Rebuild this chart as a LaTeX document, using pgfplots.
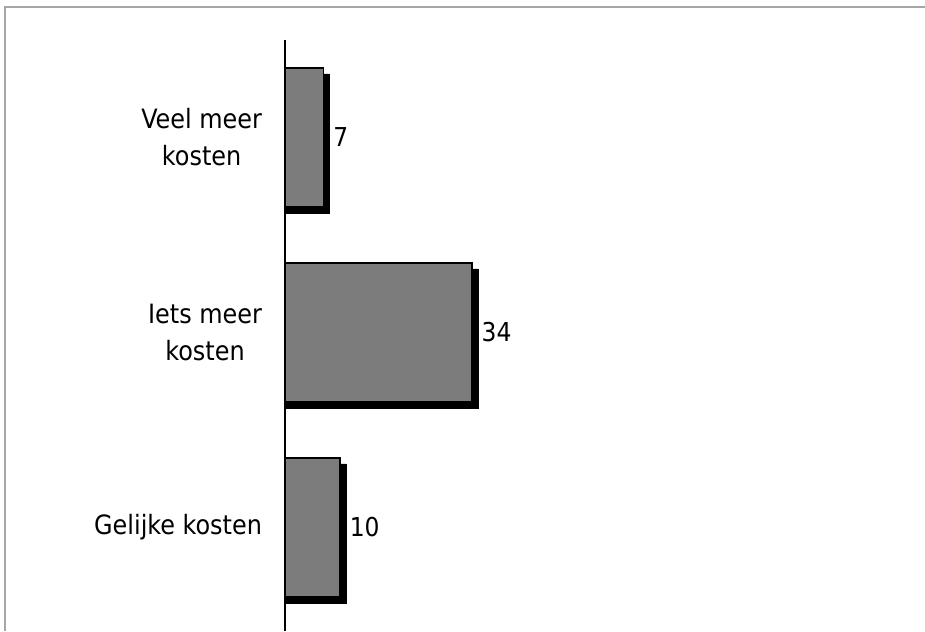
\documentclass[border=0pt]{standalone}
\usepackage{pgfplots}
\pgfplotsset{compat=1.18}
\usepackage{fontspec}
\setmainfont{DejaVu Sans Condensed}
\definecolor{barfill}{HTML}{7C7C7C}
\begin{document}
\begin{tikzpicture}
\path[use as bounding box] (0,0) rectangle (462.5pt,315.5pt);
\draw[gray!70, line width=0.8pt] (2.5pt,0) -- (2.5pt,312pt) -- (462.5pt,312pt);
\begin{axis}[
  at={(142.5pt,0pt)}, anchor=south west,
  scale only axis, width=317.5pt, height=295.5pt,
  xbar, xmin=0, xmax=115.5, ymin=-0.531, ymax=2.5,
  axis x line=none, axis y line=left,
  y axis line style={-, line width=0.9pt, black},
  ytick={0,1,2},
  yticklabels={Gelijke kosten, {Iets meer\\kosten}, {Veel meer\\kosten}},
  major tick length=0pt,
  yticklabel style={align=center, anchor=east, xshift=-8pt, font=\fontsize{13.3}{18.5}\selectfont},
  /pgf/number format/assume math mode=true,
  bar width=0.713,
  clip=false,
]
\addplot[fill=black, draw=black, bar shift=-3pt] coordinates {(8.09,2) (35.09,1) (11.09,0)};
\addplot[fill=barfill, draw=black, line width=0.8pt, bar shift=0pt,
  nodes near coords,
  nodes near coords style={anchor=west, inner sep=1pt, xshift=3.5pt, font=\fontsize{13}{15}\selectfont, black}]
  coordinates {(7,2) (34,1) (10,0)};
\end{axis}
\end{tikzpicture}
\end{document}
